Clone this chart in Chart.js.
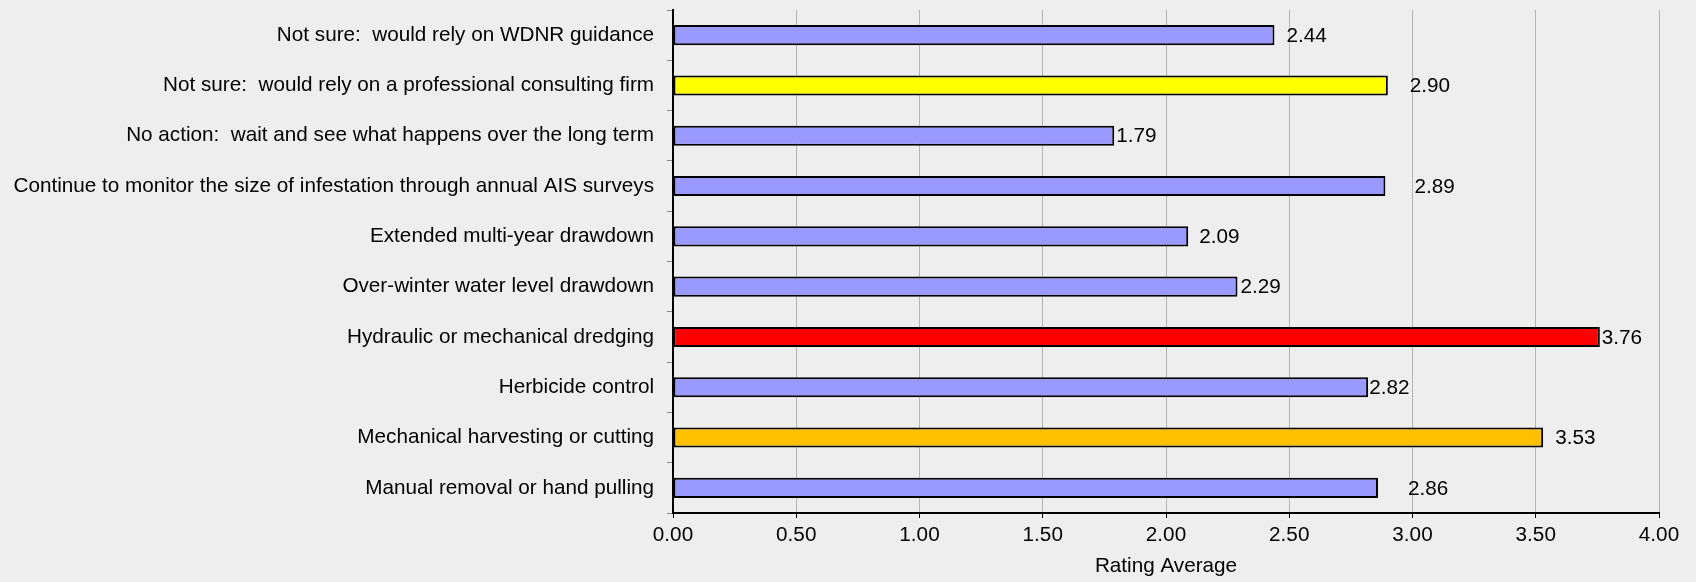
<!DOCTYPE html>
<html>
<head>
<meta charset="utf-8">
<script src="https://cdn.jsdelivr.net/npm/chart.js@4"></script>
<style>
  html, body { margin: 0; padding: 0; background: #eeeeee; }
  #wrap { width: 1696px; height: 582px; }
</style>
</head>
<body>
<div id="wrap"><canvas id="chart" width="1696" height="582"></canvas></div>
<script>
const categories = [
    "Not sure:  would rely on WDNR guidance",
    "Not sure:  would rely on a professional consulting firm",
    "No action:  wait and see what happens over the long term",
    "Continue to monitor the size of infestation through annual AIS surveys",
    "Extended multi-year drawdown",
    "Over-winter water level drawdown",
    "Hydraulic or mechanical dredging",
    "Herbicide control",
    "Mechanical harvesting or cutting",
    "Manual removal or hand pulling",
];
const ratingAverage = [2.44, 2.90, 1.79, 2.89, 2.09, 2.29, 3.76, 2.82, 3.53, 2.86];
const xTicks = [0, 0.5, 1, 1.5, 2, 2.5, 3, 3.5, 4];

const barColors = [
    "#9999ff", "#ffff00", "#9999ff", "#9999ff", "#9999ff",
    "#9999ff", "#ff0000", "#9999ff", "#ffc000", "#9999ff",
];
// gap between bar end and its value label, as in the original
const labelGaps = [12, 22, 2, 29, 11, 3, 2, 1, 12, 30];

const FONT = "'Liberation Sans', Arial, sans-serif";
const FONT_SIZE = 20.7;

const valueLabels = {
    id: "valueLabels",
    afterDatasetsDraw(chart) {
        const ctx = chart.ctx;
        const meta = chart.getDatasetMeta(0);
        ctx.save();
        ctx.font = FONT_SIZE + "px " + FONT;
        ctx.fillStyle = "#000";
        ctx.textAlign = "left";
        ctx.textBaseline = "middle";
        meta.data.forEach((bar, i) => {
            ctx.fillText(ratingAverage[i].toFixed(2), bar.x + labelGaps[i], bar.y + 1);
        });
        ctx.restore();
    },
};

new Chart(document.getElementById("chart").getContext("2d"), {
    type: "bar",
    data: {
        labels: categories,
        datasets: [{
            data: ratingAverage,
            backgroundColor: barColors,
            borderColor: "#000",
            borderWidth: 2,
            borderSkipped: false,
            barPercentage: 0.4,
            categoryPercentage: 1,
        }],
    },
    options: {
        indexAxis: "y",
        responsive: false,
        animation: false,
        layout: { padding: { top: 10, right: 37, bottom: 0, left: 0 } },
        plugins: {
            legend: { display: false },
            tooltip: { enabled: false },
        },
        scales: {
            x: {
                min: 0,
                max: 4,
                afterBuildTicks(scale) {
                    scale.ticks = xTicks.map((v) => ({ value: v }));
                },
                afterFit(scale) { scale.height = 69; },
                ticks: {
                    color: "#000",
                    font: { family: FONT, size: FONT_SIZE },
                    padding: 5,
                    callback: (v) => Number(v).toFixed(2),
                },
                grid: { color: "#b4b4b4", lineWidth: 1, tickLength: 5, tickColor: "#000" },
                border: { color: "#000", width: 2 },
                title: {
                    display: true,
                    text: "Rating Average",
                    color: "#000",
                    font: { family: FONT, size: FONT_SIZE },
                    padding: { top: 0, bottom: 3 },
                },
            },
            y: {
                afterFit(scale) {
                    scale.width = 673;
                    scale.paddingTop = 0;
                    scale.paddingBottom = 0;
                },
                ticks: {
                    color: "#000",
                    font: { family: FONT, size: FONT_SIZE },
                    padding: 13,
                },
                grid: { drawOnChartArea: false, tickLength: 6, tickColor: "#888", offset: true },
                border: { color: "#000", width: 2 },
            },
        },
    },
    plugins: [valueLabels],
});
</script>
</body>
</html>
